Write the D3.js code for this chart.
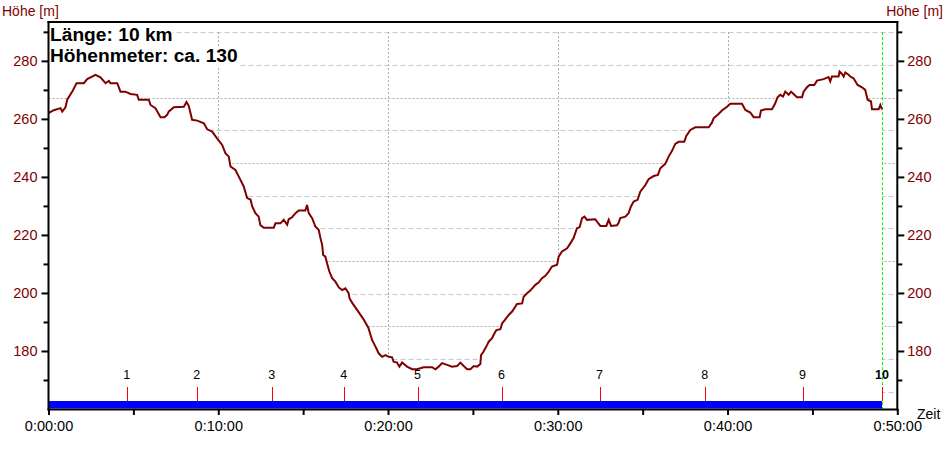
<!DOCTYPE html>
<html><head><meta charset="utf-8">
<script src="https://cdn.jsdelivr.net/npm/d3@7"></script>
<style>
body{margin:0;background:#fff}
svg{display:block}
text{font-family:"Liberation Sans",Arial,sans-serif}
</style>
</head><body>
<svg id="c" width="944" height="450"></svg>
<script>
// ---- data ----
const timeMin = [0,0.31,0.71,0.81,1.00,1.10,1.40,1.65,2.08,2.28,
2.77,3.06,3.36,3.55,3.65,4.05,4.24,4.53,4.83,5.22,
5.32,5.91,6.01,6.30,6.60,6.83,6.99,7.08,7.38,7.97,
8.13,8.26,8.46,8.76,9.15,9.35,9.64,9.93,10.23,10.42,
10.62,10.72,11.01,11.21,11.50,11.70,11.90,12.00,12.19,12.38,
12.48,12.68,13.27,13.37,13.66,13.86,14.06,14.15,14.35,14.55,
14.74,15.13,15.23,15.33,15.53,15.72,15.92,16.02,16.12,16.18,
16.31,16.41,16.55,16.71,16.90,17.10,17.30,17.49,17.68,17.73,
17.90,18.20,18.55,18.84,19.06,19.26,19.45,19.65,19.85,20.04,
20.24,20.33,20.53,20.67,20.83,21.12,21.42,21.71,22.10,22.60,
22.79,22.98,23.18,23.48,23.77,24.07,24.26,24.46,24.66,24.85,
25.05,25.25,25.44,25.48,25.63,25.84,25.93,26.13,26.22,26.38,
26.62,26.72,26.91,27.11,27.31,27.60,27.90,27.99,28.19,28.38,
28.68,28.87,29.07,29.27,29.46,29.66,29.96,30.05,30.25,30.55,
30.74,30.93,31.13,31.29,31.43,31.57,31.72,32.21,32.31,32.51,
32.86,33.00,33.14,33.49,33.59,33.68,33.98,34.17,34.31,34.47,
34.70,34.86,35.16,35.35,35.65,35.90,36.04,36.33,36.53,36.73,
36.92,37.12,37.45,37.57,37.81,38.10,38.89,39.08,39.18,39.47,
39.67,39.97,40.16,40.85,41.05,41.34,41.54,41.89,41.97,42.22,
42.62,42.81,42.95,43.11,43.27,43.40,43.60,43.74,43.89,44.09,
44.39,44.48,44.68,44.83,45.11,45.27,45.66,45.95,46.05,46.15,
46.54,46.60,46.74,46.84,46.94,47.13,47.23,47.42,47.66,47.92,
48.11,48.25,48.45,48.51,48.90,49.00,49.10];

const elevation = [262.0,263.0,263.7,262.5,264.0,266.6,269.4,272.3,272.3,273.7,
275.2,274.3,272.3,273.1,272.3,272.3,269.4,269.4,268.6,268.3,
266.6,266.6,264.8,263.7,260.6,260.6,261.4,262.5,264.0,264.2,
265.8,264.5,259.7,259.4,258.5,256.4,255.6,253.3,251.0,248.2,
247.0,243.6,242.4,240.1,236.7,232.7,232.2,229.8,227.5,226.3,
223.4,222.5,222.5,224.0,224.0,225.2,223.5,225.4,226.1,227.5,
228.4,228.4,230.3,227.5,225.8,222.9,221.7,218.9,216.6,213.1,
212.5,210.2,207.3,205.1,203.9,201.9,201.0,201.6,199.9,198.2,
196.5,194.0,191.0,188.0,183.8,181.5,179.2,178.0,178.6,178.0,
177.8,176.3,176.0,174.6,176.0,174.6,173.7,173.7,174.4,174.4,
173.7,174.6,175.8,175.2,174.6,174.8,176.0,174.8,173.7,173.7,
174.8,174.6,175.5,178.6,179.8,182.1,183.2,184.4,185.5,187.2,
187.5,189.5,190.9,192.4,193.6,196.2,196.4,198.7,199.9,200.8,
202.8,203.6,205.1,205.9,207.3,209.1,209.7,212.5,214.3,215.4,
217.1,218.9,222.3,222.7,225.8,226.3,225.2,225.4,224.6,223.1,
223.1,225.2,223.1,223.3,224.3,225.8,226.3,227.5,229.8,231.5,
232.1,234.9,237.2,239.2,240.3,240.7,243.0,244.5,247.0,249.0,
251.4,252.1,252.1,254.1,256.2,257.1,257.1,258.7,260.2,261.7,
262.9,264.2,265.2,265.2,263.1,262.2,260.6,260.6,262.9,263.3,
263.3,265.4,267.5,268.3,267.7,269.4,268.3,269.4,268.6,267.5,
267.5,269.4,270.9,271.7,271.7,273.2,273.7,274.4,272.9,274.6,
274.6,276.3,275.5,274.6,276.0,275.2,274.6,274.0,271.7,270.9,
270.0,266.6,266.0,263.3,263.3,264.8,263.3];

const kmLabels = ["1","2","3","4","5","6","7","8","9","10"];
const kmTimes  = [4.61,8.73,13.15,17.39,21.74,26.69,32.46,38.65,44.42,49.10];

const timeTicks   = [0,10,20,30,40,50];
const timeMinor   = [5,15,25,35,45];
const heightTicks = [180,200,220,240,260,280];
const heightMinor = [170,190,210,230,250,270,290];
const infoLines   = ["Länge: 10 km","Höhenmeter: ca. 130"];
const axisTitle   = "Höhe [m]";
const timeTitle   = "Zeit";

// ---- scales ----
const svg = d3.select("#c");
const X0 = 48.5, X1 = 897.3, Y0 = 22, Y1 = 409;
const x = d3.scaleLinear().domain([0,50]).range([X0, X1]);
const y = d3.scaleLinear().domain([160,293.4]).range([Y1, Y0]);
const data = d3.zip(timeMin, elevation);
const tEnd = timeMin[timeMin.length-1];

// grid levels (12 equally spaced lines)
const gridLevels = d3.range(12).map(i => 289.9 - i*11.27);
const dotted = new Set([2,4,7,9]);

const grid = svg.append("g");
grid.selectAll("line.h").data(gridLevels).join("line")
  .attr("x1", X0).attr("x2", X1)
  .attr("y1", d => Math.round(y(d))+0.5).attr("y2", d => Math.round(y(d))+0.5)
  .attr("stroke", (d,i) => dotted.has(i) ? "#acacac" : "#c8c8c8")
  .attr("stroke-dasharray", (d,i) => dotted.has(i) ? "2,2" : "5,3")
  .attr("stroke-width", 1);
grid.selectAll("line.v").data([10,20,30,40]).join("line")
  .attr("x1", d => Math.round(x(d))+0.5).attr("x2", d => Math.round(x(d))+0.5)
  .attr("y1", y(gridLevels[0])).attr("y2", Y1)
  .attr("stroke", "#a8a8a8").attr("stroke-dasharray", "2,2").attr("stroke-width", 1);

// white fill under profile
svg.append("path").datum(data)
  .attr("d", d3.area().x(d => x(d[0])).y0(Y1).y1(d => y(d[1])))
  .attr("fill", "#fff");

// green end marker
svg.append("line")
  .attr("x1", Math.round(x(tEnd))+0.5).attr("x2", Math.round(x(tEnd))+0.5)
  .attr("y1", y(gridLevels[0])).attr("y2", Y1)
  .attr("stroke", "#00ff00").attr("stroke-dasharray", "3,2").attr("stroke-width", 1);

// profile line
svg.append("path").datum(data)
  .attr("d", d3.line().x(d => x(d[0])).y(d => y(d[1])))
  .attr("fill", "none").attr("stroke", "#800000").attr("stroke-width", 2)
  .attr("stroke-linejoin", "miter");

// blue distance band
svg.append("rect")
  .attr("x", x(0)).attr("width", x(tEnd) - x(0))
  .attr("y", 401).attr("height", 7.5).attr("fill", "#0000ff");

// km markers
const km = svg.append("g");
km.selectAll("line").data(kmTimes).join("line")
  .attr("x1", d => Math.round(x(d))+0.5).attr("x2", d => Math.round(x(d))+0.5)
  .attr("y1", 387).attr("y2", 401).attr("stroke", "#ff0000").attr("stroke-width", 1);
km.selectAll("text").data(kmLabels).join("text")
  .attr("x", (d,i) => x(kmTimes[i])).attr("y", 379)
  .attr("text-anchor", "middle").attr("font-size", 12.5).attr("fill", "#000")
  .attr("font-weight", (d,i) => i === kmLabels.length-1 ? "bold" : "normal")
  .text(d => d);

// info text with white background
const info = svg.append("g");
infoLines.forEach((s,i) => {
  const t = info.append("text").attr("x", 50).attr("y", 40.7 + i*21.6)
    .attr("font-size", 19.2).attr("font-weight", "bold").attr("fill", "#000").text(s);
  const b = t.node().getBBox();
  info.insert("rect", "text").attr("x", b.x).attr("y", b.y+1).attr("width", b.width).attr("height", b.height-1)
    .attr("fill", "#fff");
});

// axes
function styleAxis(g){
  g.select(".domain").remove();
  g.selectAll(".tick line").attr("stroke", "#000").attr("stroke-width", 2);
  g.selectAll(".tick text").attr("font-size", 14.5).attr("font-family", '"Liberation Sans",Arial,sans-serif');
}
const fmtTime = d => `0:${String(d).padStart(2,"0")}:00`;

const gl = svg.append("g").attr("transform", `translate(${X0},0)`);
gl.call(d3.axisLeft(y).tickValues(heightTicks).tickSize(7).tickPadding(4)).call(styleAxis);
gl.selectAll(".tick text").attr("fill", "#800000");
svg.append("g").attr("transform", `translate(${X0},0)`)
  .call(d3.axisLeft(y).tickValues(heightMinor).tickSize(5).tickFormat("")).call(styleAxis);

const gr = svg.append("g").attr("transform", `translate(${X1},0)`);
gr.call(d3.axisRight(y).tickValues(heightTicks).tickSize(7).tickPadding(3)).call(styleAxis);
gr.selectAll(".tick text").attr("fill", "#800000");
svg.append("g").attr("transform", `translate(${X1},0)`)
  .call(d3.axisRight(y).tickValues(heightMinor).tickSize(5).tickFormat("")).call(styleAxis);

const gb = svg.append("g").attr("transform", `translate(0,${Y1})`);
gb.call(d3.axisBottom(x).tickValues(timeTicks).tickSize(6).tickPadding(6).tickFormat(fmtTime)).call(styleAxis);
gb.selectAll(".tick text").attr("fill", "#000");
svg.append("g").attr("transform", `translate(0,${Y1})`)
  .call(d3.axisBottom(x).tickValues(timeMinor).tickSize(6).tickFormat("")).call(styleAxis);

// frame
const frame = svg.append("g").attr("stroke", "#000").attr("stroke-width", 2).attr("stroke-linecap", "square");
frame.append("line").attr("x1", X0).attr("x2", X0).attr("y1", Y0).attr("y2", Y1+0.5);
frame.append("line").attr("x1", X1).attr("x2", X1).attr("y1", Y0).attr("y2", Y1+0.5);
frame.append("line").attr("x1", X0).attr("x2", X1).attr("y1", Y0).attr("y2", Y0);
frame.append("line").attr("x1", X0).attr("x2", X1).attr("y1", Y1+0.5).attr("y2", Y1+0.5);

// titles
svg.append("text").attr("x", 2).attr("y", 16).attr("font-size", 14).attr("fill", "#800000").text(axisTitle);
svg.append("text").attr("x", 943).attr("y", 16).attr("text-anchor", "end").attr("font-size", 14).attr("fill", "#800000").text(axisTitle);
svg.append("text").attr("x", 917).attr("y", 419).attr("font-size", 14).attr("fill", "#000").text(timeTitle);
</script>
</body></html>
